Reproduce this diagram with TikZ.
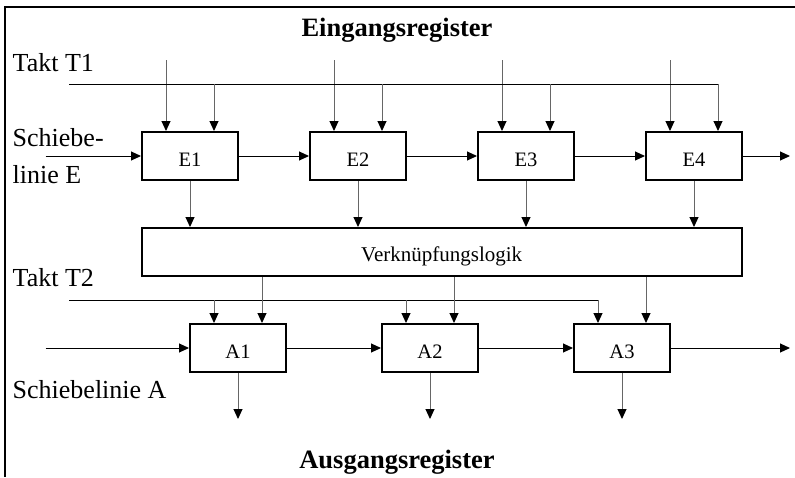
\documentclass[tikz,border=0pt]{standalone}
\usepackage{fontspec}
\setmainfont{Liberation Serif}
\usetikzlibrary{arrows.meta}
\begin{document}
\begin{tikzpicture}[x=1pt,y=-1pt,
  reg/.style={draw, line width=2pt, minimum width=96pt, minimum height=48pt, inner sep=0pt,
    font=\fontsize{20.5}{22}\selectfont, text height=22pt, text depth=0.6pt},
  lbl/.style={anchor=base west, inner sep=0pt, font=\fontsize{26}{28}\selectfont},
  ttl/.style={anchor=base, inner sep=0pt, font=\fontsize{26.5}{28}\selectfont\bfseries},
  con/.style={line width=1pt, -{Triangle[length=10pt,width=9pt]}},
  vcon/.style={line width=1pt, draw=black!60, -{Triangle[length=10pt,width=9pt,color=black]}},
  plain/.style={line width=1pt}
]
\useasboundingbox (0,0) rectangle (795,477);
\draw[line width=2pt] (795,7.3) -- (4.5,7.3) -- (4.5,477);

% titles and labels
\node[ttl] (tin) at (397,36.7) {Eingangsregister};
\node[ttl] (tout) at (397,468) {Ausgangsregister};
\node[lbl] (t1) at (12.5,71) {Takt T1};
\node[lbl] (se1) at (12.5,146) {Schiebe-};
\node[lbl] (se2) at (12.5,183) {linie E};
\node[lbl] (t2) at (12.5,286) {Takt T2};
\node[lbl] (sa) at (12.5,398) {Schiebelinie A};

% boxes
\node[reg] (E1) at (190,156) {E1};
\node[reg] (E2) at (358,156) {E2};
\node[reg] (E3) at (526,156) {E3};
\node[reg] (E4) at (694,156) {E4};
\node[reg, minimum width=600pt, font=\fontsize{21}{22}\selectfont, text height=20pt, text depth=0.6pt] (L) at (441.7,252) {Verknüpfungslogik};
\node[reg] (A1) at (238,348) {A1};
\node[reg] (A2) at (430,348) {A2};
\node[reg] (A3) at (622,348) {A3};

% helper coordinates
\coordinate (ttop) at (0,60);
\coordinate (t1s) at (69.3,84.3);
\coordinate (t2s) at (69.3,300);
\coordinate (sE) at (45.7,156);
\coordinate (oE) at (790,156);
\coordinate (sA) at (45.7,348);
\coordinate (oA) at (790,348);
\coordinate (abot) at (0,419);

% input register: top inputs
\foreach \n in {E1,E2,E3,E4}{
  \draw[vcon] ([xshift=-24pt]\n.north |- ttop) -- ([xshift=-24pt]\n.north);
}
% clock T1
\coordinate (t1e) at ([xshift=24pt]E4.north |- t1s);
\draw[plain] (t1s) -- (t1e);
\foreach \n in {E1,E2,E3,E4}{
  \draw[vcon] ([xshift=24pt]\n.north |- t1s) -- ([xshift=24pt]\n.north);
}
% shift line E
\draw[con] (sE) -- (E1);
\draw[con] (E1) -- (E2);
\draw[con] (E2) -- (E3);
\draw[con] (E3) -- (E4);
\draw[con] (E4) -- (oE);
% E to logic
\foreach \n in {E1,E2,E3,E4}{
  \draw[vcon] (\n.south) -- (\n.south |- L.north);
}
% clock T2
\coordinate (t2e) at ([xshift=-24pt]A3.north |- t2s);
\draw[plain] (t2s) -- (t2e);
\foreach \n in {A1,A2,A3}{
  \draw[vcon] ([xshift=-24pt]\n.north |- t2s) -- ([xshift=-24pt]\n.north);
  \draw[vcon] ([xshift=24pt]\n.north |- L.south) -- ([xshift=24pt]\n.north);
  \draw[vcon] (\n.south) -- (\n.south |- abot);
}
% shift line A
\draw[con] (sA) -- (A1);
\draw[con] (A1) -- (A2);
\draw[con] (A2) -- (A3);
\draw[con] (A3) -- (oA);
\end{tikzpicture}
\end{document}
